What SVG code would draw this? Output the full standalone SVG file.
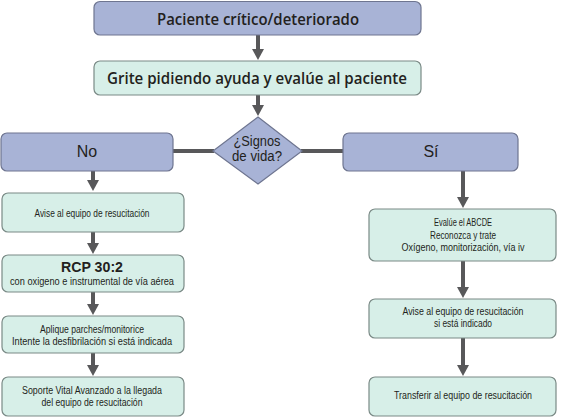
<svg xmlns="http://www.w3.org/2000/svg" width="561" height="418" viewBox="0 0 561 418">
<defs>
<marker id="ah" markerUnits="userSpaceOnUse" markerWidth="14" markerHeight="12" refX="1" refY="6" orient="auto">
<path d="M0,0 L11,6 L0,12 Z" fill="#58585a"/>
</marker>
<style>
.blue{fill:#a8b3d6;stroke:#6e7590;stroke-width:1.2}
.green{fill:#d7efe8;stroke:#7a8a86;stroke-width:1.2}
.t{font-family:"Liberation Sans",Arial,sans-serif;fill:#231f20;text-anchor:middle}
.h{font-family:"Open Sans","Liberation Sans",Arial,sans-serif;font-weight:600}
.s{font-size:10px}
.conn line{stroke:#58585a;stroke-width:4}
</style>
</defs>
<rect width="561" height="418" fill="#ffffff"/>
<g class="conn">
<line x1="258" y1="35" x2="258" y2="50" marker-end="url(#ah)"/>
<line x1="258" y1="95" x2="258" y2="106" marker-end="url(#ah)"/>
<line x1="173" y1="151" x2="214" y2="151"/>
<line x1="301" y1="151" x2="343" y2="151"/>
<line x1="93" y1="171" x2="93" y2="181" marker-end="url(#ah)"/>
<line x1="93" y1="232" x2="93" y2="244" marker-end="url(#ah)"/>
<line x1="93" y1="292" x2="93" y2="305" marker-end="url(#ah)"/>
<line x1="93" y1="353" x2="93" y2="366" marker-end="url(#ah)"/>
<line x1="463" y1="171" x2="463" y2="198" marker-end="url(#ah)"/>
<line x1="463" y1="261" x2="463" y2="288" marker-end="url(#ah)"/>
<line x1="463" y1="338" x2="463" y2="366" marker-end="url(#ah)"/>
</g>
<g id="n1">
<rect class="blue" x="94" y="1.5" width="327" height="33.5" rx="6"/>
<text class="t h" x="258" y="25" font-size="17" textLength="202" lengthAdjust="spacingAndGlyphs">Paciente crítico/deteriorado</text>
</g>
<g id="n2">
<rect class="green" x="94" y="61" width="327" height="34" rx="6"/>
<text class="t h" x="257" y="84" font-size="17" textLength="300" lengthAdjust="spacingAndGlyphs">Grite pidiendo ayuda y evalúe al paciente</text>
</g>
<g id="d1">
<polygon class="blue" points="258,117 302,151 258,184 213,151"/>
<text class="t" x="257" y="146" font-size="14" textLength="47" lengthAdjust="spacingAndGlyphs">¿Signos</text>
<text class="t" x="257" y="161" font-size="14" textLength="50" lengthAdjust="spacingAndGlyphs">de vida?</text>
</g>
<g id="no">
<rect class="blue" x="1" y="133" width="172" height="38" rx="6"/>
<text class="t" x="87" y="157" font-size="16">No</text>
</g>
<g id="si">
<rect class="blue" x="343" y="133" width="175" height="38" rx="6"/>
<text class="t" x="431" y="157" font-size="16">Sí</text>
</g>
<g id="l1">
<rect class="green" x="2" y="193" width="182" height="39" rx="6"/>
<text class="t s" x="92" y="217" textLength="115" lengthAdjust="spacingAndGlyphs">Avise al equipo de resucitación</text>
</g>
<g id="l2">
<rect class="green" x="2" y="255" width="182" height="37" rx="6"/>
<text class="t" x="92" y="272" font-size="14" font-weight="bold" textLength="62" lengthAdjust="spacingAndGlyphs">RCP 30:2</text>
<text class="t s" x="92" y="285" textLength="164" lengthAdjust="spacingAndGlyphs">con oxigeno e instrumental de vía aérea</text>
</g>
<g id="l3">
<rect class="green" x="2" y="316" width="182" height="37" rx="6"/>
<text class="t s" x="92" y="333" textLength="104" lengthAdjust="spacingAndGlyphs">Aplique parches/monitorice</text>
<text class="t s" x="92" y="345" textLength="160" lengthAdjust="spacingAndGlyphs">Intente la desfibrilación si está indicada</text>
</g>
<g id="l4">
<rect class="green" x="2" y="377" width="182" height="39" rx="6"/>
<text class="t s" x="92" y="394" textLength="140" lengthAdjust="spacingAndGlyphs">Soporte Vital Avanzado a la llegada</text>
<text class="t s" x="92" y="406" textLength="101" lengthAdjust="spacingAndGlyphs">del equipo de resucitación</text>
</g>
<g id="r1">
<rect class="green" x="369" y="209" width="187" height="52" rx="6"/>
<text class="t s" x="463" y="226" textLength="58" lengthAdjust="spacingAndGlyphs">Evalúe el ABCDE</text>
<text class="t s" x="463" y="239" textLength="66" lengthAdjust="spacingAndGlyphs">Reconozca y trate</text>
<text class="t s" x="463" y="251" textLength="123" lengthAdjust="spacingAndGlyphs">Oxígeno, monitorización, vía iv</text>
</g>
<g id="r2">
<rect class="green" x="369" y="299" width="187" height="39" rx="6"/>
<text class="t s" x="463" y="315" textLength="121" lengthAdjust="spacingAndGlyphs">Avise al equipo de resucitación</text>
<text class="t s" x="463" y="327" textLength="58" lengthAdjust="spacingAndGlyphs">si está indicado</text>
</g>
<g id="r3">
<rect class="green" x="369" y="377" width="187" height="39" rx="6"/>
<text class="t s" x="463" y="399" textLength="138" lengthAdjust="spacingAndGlyphs">Transferir al equipo de resucitación</text>
</g>
</svg>
